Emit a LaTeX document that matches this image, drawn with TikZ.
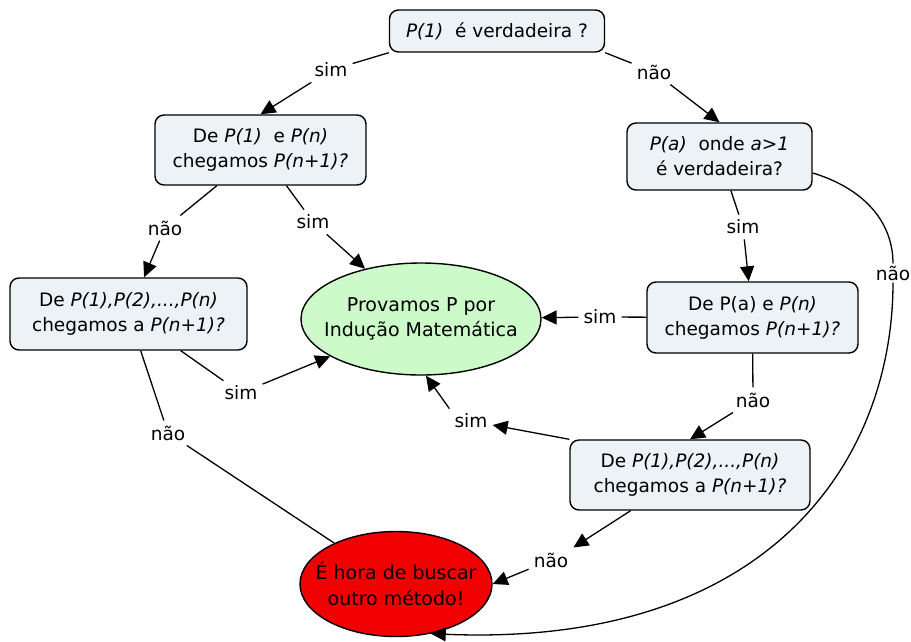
\documentclass[tikz,border=0pt]{standalone}
\usepackage{fontspec}
\setmainfont{DejaVu Sans}
\usetikzlibrary{shapes.geometric,arrows.meta}
\definecolor{boxfill}{RGB}{236,242,245}
\definecolor{greenfill}{RGB}{204,250,200}
\definecolor{redfill}{RGB}{240,0,0}
\tikzset{
  txt/.style={font=\fontsize{18.5}{25}\selectfont},
  qbox/.style={txt, draw, line width=1.4pt, rounded corners=9pt, fill=boxfill, align=center, inner sep=0pt},
  goal/.style={font=\fontsize{19}{25.5}\selectfont, draw, line width=1.4pt, ellipse, align=center, inner xsep=-22pt, inner ysep=0pt},
  lab/.style={txt, inner sep=5pt},
  conn/.style={line width=1.3pt},
  arr/.style={line width=1.3pt, -{Triangle[length=15pt,width=14pt]}}
}
\begin{document}
\begin{tikzpicture}[x=1pt,y=-1pt]
\useasboundingbox (0,0) rectangle (911,641);
% boxes
\node[qbox, minimum width=215, minimum height=42] (top) at (497,31) {\textit{P(1)}\ \ é verdadeira ?};
\node[qbox, minimum width=211, minimum height=70] (B) at (260.5,150) {De \textit{P(1)}\ \ e \textit{P(n)}\\chegamos \textit{P(n+1)?}};
\node[qbox, minimum width=185, minimum height=67] (C) at (719.5,156.5) {\textit{P(a)}\ \ onde \textit{a>1}\\ é verdadeira?};
\node[qbox, minimum width=237, minimum height=72] (D) at (128.5,314) {De \textit{P(1),P(2),...,P(n)}\\chegamos a \textit{P(n+1)?}};
\node[qbox, minimum width=211, minimum height=71] (E) at (752.5,317.5) {De P(a) e \textit{P(n)}\\chegamos \textit{P(n+1)?}};
\node[qbox, minimum width=240, minimum height=70] (F) at (690,475) {De \textit{P(1),P(2),...,P(n)}\\chegamos a \textit{P(n+1)?}};
\node[goal, fill=greenfill, minimum width=240, minimum height=112] (G) at (421,319) {Provamos P por\\Indução Matemática};
\node[goal, fill=redfill, minimum width=192, minimum height=105] (R) at (396,584) {É hora de buscar\\outro método!};
% labels
\node[lab] (s1) at (331,70) {sim};
\node[lab] (n1) at (654,72) {não};
\node[lab] (s2) at (313,222) {sim};
\node[lab] (n2) at (165,228) {não};
\node[lab] (s3) at (241,393) {sim};
\node[lab] (n3) at (168,433) {não};
\node[lab] (s4) at (743,227) {sim};
\node[lab, inner sep=2pt] (n4) at (893,273) {não};
\node[lab] (s5) at (600,317) {sim};
\node[lab] (n5) at (753,400) {não};
\node[lab] (s6) at (471,421) {sim};
\node[lab] (n6) at (551,560) {não};
% connectors
\draw[conn] (top.south west) -- (s1);
\draw[arr] (s1) -- (B.north);
\draw[conn] (top.south east) -- (n1);
\draw[arr] (n1) -- (C.north);
\draw[conn] (B) -- (s2);
\draw[arr] (s2) -- (G);
\draw[conn] (B) -- (n2);
\draw[arr] (n2) -- (D);
\draw[conn] (D) -- (s3);
\draw[arr] (s3) -- (G);
\draw[conn] (D) -- (n3);
\draw[conn] (n3) -- (R);
\draw[conn] (C) -- (s4);
\draw[arr] (s4) -- (E);
\draw[conn] (C.-10) .. controls (868,190) and (893,225) .. (n4.north);
\draw[arr] (n4.south) .. controls (893,460) and (770,648) .. (R.-55);
\draw[conn] (E) -- (s5);
\draw[arr] (s5) -- (G);
\draw[conn] (E) -- (n5);
\draw[arr] (n5) -- (F.north);
\draw[arr] (F.north west) -- (s6);
\draw[arr] (s6.north west) -- (G.-85);
\draw[arr] (F.211) -- (n6.north east);
\draw[arr] (n6) -- (R.east);
\end{tikzpicture}
\end{document}
